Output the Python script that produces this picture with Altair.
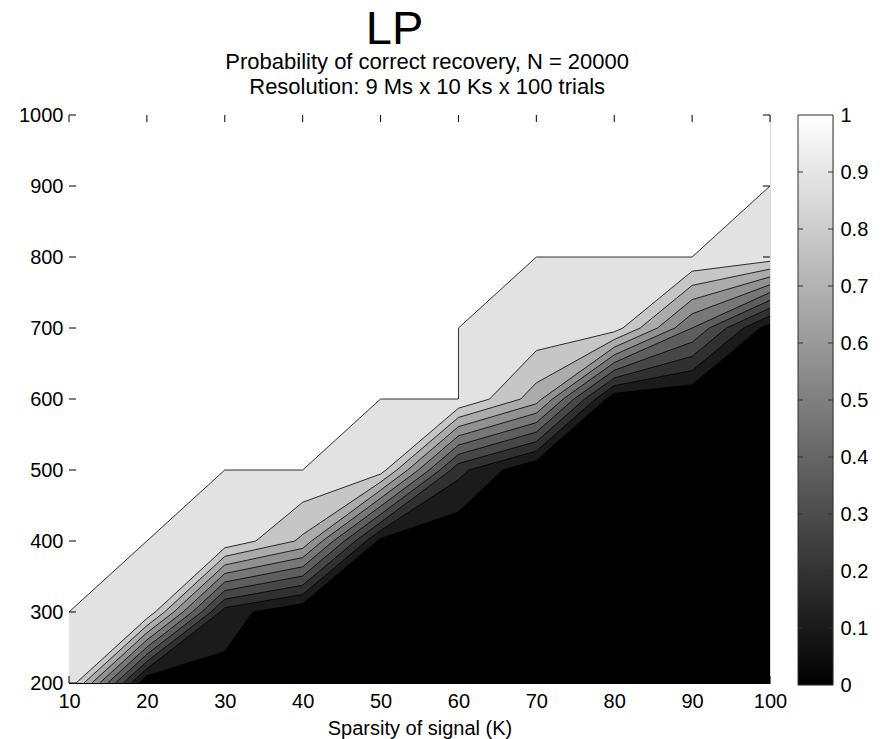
import altair as alt
import pandas as pd

# ---- data ----
K_VALUES = [10, 20, 30, 40, 50, 60, 70, 80, 90, 100]
M_VALUES = [200, 300, 400, 500, 600, 700, 800, 900, 1000]
# probability of correct recovery, one list per K, values for M = 200 ... 1000
P_K10 = [0.99, 1, 1, 1, 1, 1, 1, 1, 1]
P_K20 = [0.0, 0.99, 1, 1, 1, 1, 1, 1, 1]
P_K30 = [0.06, 0.15, 0.98, 1, 1, 1, 1, 1, 1]
P_K40 = [0.0, 0.01, 0.78, 1, 1, 1, 1, 1, 1]
P_K50 = [0.0, 0.0, 0.07, 0.95, 1, 1, 1, 1, 1]
P_K60 = [0.0, 0.0, 0.01, 0.23, 1, 1, 1, 1, 1]
P_K70 = [0.0, 0.0, 0.0, 0.0, 0.75, 0.97, 1, 1, 1]
P_K80 = [0.0, 0.0, 0.0, 0.0, 0.026, 0.95, 1, 1, 1]
P_K90 = [0.0, 0.0, 0.0, 0.0, 0.0, 0.5, 1, 1, 1]
P_K100 = [0.0, 0.0, 0.0, 0.0, 0.0, 0.045, 0.955, 1, 1]
P_COLS = [P_K10, P_K20, P_K30, P_K40, P_K50, P_K60, P_K70, P_K80, P_K90, P_K100]

LEVELS = [0.1, 0.2, 0.3, 0.4, 0.5, 0.6, 0.7, 0.8, 0.9, 1.0]
K_TICKS = [10, 20, 30, 40, 50, 60, 70, 80, 90, 100]
M_TICKS = [200, 300, 400, 500, 600, 700, 800, 900, 1000]
CBAR_TICKS = [0, 0.1, 0.2, 0.3, 0.4, 0.5, 0.6, 0.7, 0.8, 0.9, 1]

TITLE = "LP"
SUBTITLE = ["Probability of correct recovery, N = 20000",
            "Resolution: 9 Ms x 10 Ks x 100 trials"]
X_TITLE = "Sparsity of signal (K)"

FONT = "Liberation Sans"


def contour_points(L):
    """Linear-interpolated crossings of level L on the grid edges (marching squares)."""
    pts = set()
    for i, K in enumerate(K_VALUES):
        col = P_COLS[i]
        for j in range(len(M_VALUES) - 1):
            a, b = col[j], col[j + 1]
            if a < L <= b:
                m = M_VALUES[j] + (L - a) / (b - a) * (M_VALUES[j + 1] - M_VALUES[j])
                pts.add((round(K, 6), round(m, 6)))
    for j, M in enumerate(M_VALUES):
        for i in range(len(K_VALUES) - 1):
            a, b = P_COLS[i][j], P_COLS[i + 1][j]
            if b < L <= a:
                k = K_VALUES[i] + (a - L) / (a - b) * (K_VALUES[i + 1] - K_VALUES[i])
                pts.add((round(k, 6), round(M, 6)))
    return sorted(pts)


kmin, kmax = K_VALUES[0], K_VALUES[-1]
mmin, mmax = M_VALUES[0], M_VALUES[-1]

area_rows = []
line_rows = []
all_levels = [0.0] + LEVELS
for li, L in enumerate(all_levels):
    if L == 0.0:
        pts = [(kmin, mmin), (kmax, mmin)]
        cpts = []
    else:
        cpts = contour_points(L)
        pts = list(cpts)
        if pts and pts[0][0] > kmin:
            pts = [(kmin, mmin)] + pts
        if pts and pts[-1][0] < kmax:
            pts = pts + [(kmax, mmax)]
    for n, p in enumerate(pts):
        area_rows.append({"K": p[0], "M": p[1], "M2": mmax, "level": L, "li": li, "idx": n})
    for n, p in enumerate(cpts):
        line_rows.append({"K": p[0], "M": p[1], "li": li, "idx": n})
area_df = pd.DataFrame(area_rows)
lines_df = pd.DataFrame(line_rows)

# inward tick marks (MATLAB style box axes)
TICK_M = 10.0   # length in M units
TICK_K = 0.9    # length in K units
tick_rows = []
for k in K_TICKS:
    tick_rows.append({"K": k, "K2": k, "M": mmin, "M2": mmin + TICK_M})
    tick_rows.append({"K": k, "K2": k, "M": mmax - TICK_M, "M2": mmax})
for m in M_TICKS:
    tick_rows.append({"K": kmin, "K2": kmin + TICK_K, "M": m, "M2": m})
    tick_rows.append({"K": kmax - TICK_K, "K2": kmax, "M": m, "M2": m})
ticks_df = pd.DataFrame(tick_rows)

xscale = alt.Scale(domain=[kmin, kmax], nice=False, zero=False)
yscale = alt.Scale(domain=[mmin, mmax], nice=False, zero=False)
cscale = alt.Scale(domain=[0, 1], range=["#000000", "#ffffff"])

xaxis = alt.Axis(values=K_TICKS, ticks=False, grid=False, labelFont=FONT, labelFontSize=20,
                 labelColor="black", labelPadding=8, titleFont=FONT, titleFontSize=20,
                 titleFontWeight="normal", titleColor="black", titlePadding=7,
                 domainColor="black", labelFlush=False)
yaxis = alt.Axis(values=M_TICKS, ticks=False, grid=False, format="d", labelFont=FONT,
                 labelFontSize=20, labelColor="black", labelPadding=6, domainColor="black",
                 labelFlush=False)

X = alt.X("K:Q", scale=xscale, axis=xaxis, title=X_TITLE)
Y = alt.Y("M:Q", scale=yscale, axis=yaxis, title="", stack=False)

base = alt.Chart(area_df)
layers = []
for li in range(len(all_levels)):
    layers.append(
        base.transform_filter(alt.datum.li == li)
        .mark_area(interpolate="linear")
        .encode(x=X, y=Y, y2="M2", color=alt.Color("level:Q", scale=cscale, legend=None))
    )

lines = alt.Chart(lines_df).mark_line(color="black", strokeWidth=0.8).encode(
    x=X, y=Y, detail="li:N", order="idx:Q",
)
layers.append(lines)

ticks = alt.Chart(ticks_df).mark_rule(color="black", strokeWidth=1).encode(
    x=X, x2="K2", y=Y, y2="M2",
)
layers.append(ticks)

main = alt.layer(*layers).properties(width=701, height=568)

# ---- colorbar ----
cb_scale_x = alt.Scale(domain=[0, 1], nice=False, zero=False)
cb_scale_y = alt.Scale(domain=[0, 1], nice=False, zero=False)
cbar_df = pd.DataFrame({"c0": [0], "c1": [1], "v0": [0], "v1": [1]})
gradient = alt.LinearGradient(
    gradient="linear",
    stops=[alt.GradientStop(offset=0, color="#ffffff"), alt.GradientStop(offset=1, color="#000000")],
    x1=0, x2=0, y1=0, y2=1,
)
cb_axis = alt.Axis(values=CBAR_TICKS, orient="right", ticks=False, grid=False, domain=False,
                   format=".1~f", labelFont=FONT, labelFontSize=20, labelColor="black",
                   labelPadding=7, labelFlush=False, labelOverlap=False)
cb_rect = alt.Chart(cbar_df).mark_rect(color=gradient, stroke="#303030", strokeWidth=1).encode(
    x=alt.X("c0:Q", scale=cb_scale_x, axis=None), x2="c1",
    y=alt.Y("v0:Q", scale=cb_scale_y, axis=cb_axis, title=None), y2="v1",
)
CB_TICK = 0.14
cb_tick_rows = []
for v in CBAR_TICKS[1:-1]:
    cb_tick_rows.append({"c0": 0, "c1": CB_TICK, "v0": v})
    cb_tick_rows.append({"c0": 1 - CB_TICK, "c1": 1, "v0": v})
cb_ticks = alt.Chart(pd.DataFrame(cb_tick_rows)).mark_rule(color="#303030", strokeWidth=1).encode(
    x=alt.X("c0:Q", scale=cb_scale_x, axis=None), x2="c1",
    y=alt.Y("v0:Q", scale=cb_scale_y, axis=cb_axis, title=None),
)
cbar = alt.layer(cb_rect, cb_ticks).properties(width=35, height=570)

# "LP" sits a little left of the centred subtitle lines in the reference:
# pad it with no-break spaces, closed by a zero-width space so they are not trimmed
title_text = TITLE + "\u00a0" * 5 + "\u200b"

chart = alt.hconcat(main, cbar, spacing=9).properties(
    padding={"left": 10, "top": -3, "right": 0, "bottom": 0},
    title=alt.TitleParams(
        text=title_text,
        subtitle=SUBTITLE,
        font=FONT, fontSize=47, fontWeight="normal", color="black", lineHeight=40,
        subtitleFont=FONT, subtitleFontSize=22, subtitleColor="black",
        subtitleLineHeight=25, subtitlePadding=-2, anchor="middle", offset=6, dx=-16,
    ),
).resolve_scale(color="independent").configure_view(stroke="black", strokeWidth=1).configure(background="white")

chart.save("out.html", embed_options={"renderer": "svg", "actions": False})
